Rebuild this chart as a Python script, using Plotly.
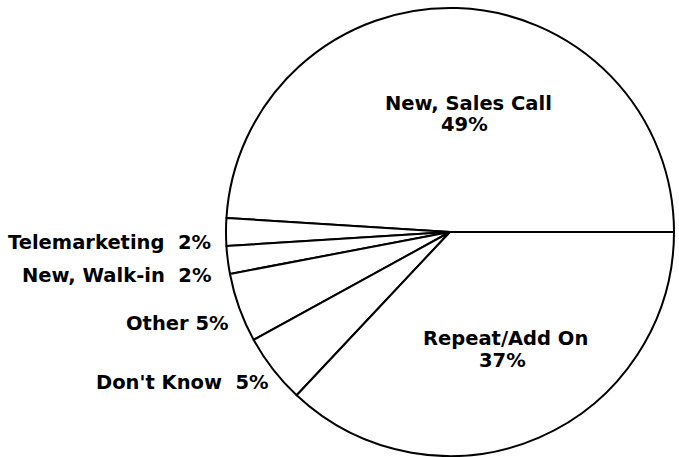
import plotly.graph_objects as go

labels = ["New, Sales Call", "Telemarketing", "New, Walk-in", "Other", "Don't Know", "Repeat/Add On"]
values = [49, 2, 2, 5, 5, 37]

W, H = 679, 457
cx, cy, r = 450, 232, 224

# counterclockwise: first slice lies clockwise of the rotation line, so offset by its size
rot = 90 - 360 * values[0] / sum(values)

fig = go.Figure(go.Pie(
    labels=labels, values=values, sort=False,
    direction="counterclockwise", rotation=rot,
    marker=dict(colors=["white"] * len(values), line=dict(color="black", width=2)),
    textinfo="none", hoverinfo="label+percent", showlegend=False,
    domain=dict(x=[(cx - r) / W, (cx + r) / W], y=[1 - (cy + r) / H, 1 - (cy - r) / H]),
))

font = dict(family="DejaVu Sans", size=19.5, color="black", weight="bold")

def ann(text, px, py, xanchor="center"):
    fig.add_annotation(text=text, x=px / W, y=1 - py / H, xref="paper", yref="paper",
                       xanchor=xanchor, yanchor="middle", showarrow=False, font=font)

ann(f"{labels[0]}", 468, 103)
ann(f"{values[0]}%", 464, 125)
ann(f"{labels[5]}", 505, 338)
ann(f"{values[5]}%", 502, 360)
ann(f"{labels[1]}  {values[1]}%", 213, 242, "right")
ann(f"{labels[2]}  {values[2]}%", 213, 275, "right")
ann(f"{labels[3]} {values[3]}%", 231, 323, "right")
ann(f"{labels[4]}  {values[4]}%", 271, 382, "right")

fig.update_layout(width=W, height=H, margin=dict(l=0, r=0, t=0, b=0),
                  paper_bgcolor="white", plot_bgcolor="white")
fig.write_html("out.html")
